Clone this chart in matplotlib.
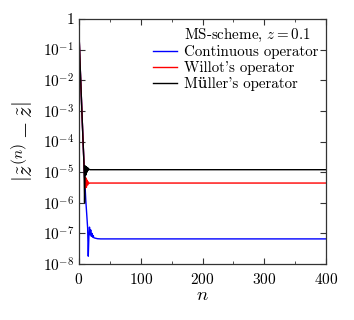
import matplotlib
matplotlib.use("Agg")
import matplotlib.pyplot as plt
from matplotlib.ticker import FixedLocator, NullLocator

plt.rcParams['font.family'] = ['cmr10', 'DejaVu Serif']
plt.rcParams['mathtext.fontset'] = 'cm'
plt.rcParams['axes.formatter.use_mathtext'] = True
plt.rcParams['axes.unicode_minus'] = False

# Continuous operator (blue)
n_cont = [0, 2, 4, 6, 8, 10, 11, 12, 13, 14, 15, 16, 17, 18, 19, 20, 21, 22, 23, 24, 26, 30, 35, 400]
e_cont = [0.35, 2.5e-2, 2.2e-3, 2.0e-4, 2.0e-5, 3.0e-6, 1.2e-6, 6.0e-7, 3.0e-7, 1.5e-7, 1.8e-8,
          8.0e-8, 1.6e-7, 9.0e-8, 1.3e-7, 8.0e-8, 1.0e-7, 7.5e-8, 8.5e-8, 7.2e-8, 7.0e-8, 6.7e-8, 6.6e-8, 6.6e-8]

# Willot's operator (red)
n_will = [0, 2, 4, 6, 8, 9, 10, 11, 12, 13, 14, 15, 16, 18, 400]
e_will = [0.35, 2.5e-2, 2.2e-3, 2.0e-4, 2.0e-5, 7.0e-6, 3.0e-6, 6.5e-6, 3.2e-6, 5.5e-6, 3.8e-6, 4.8e-6, 4.3e-6, 4.4e-6, 4.4e-6]

# Muller's operator (black)
n_mull = [0, 2, 4, 6, 8, 9, 10, 11, 12, 13, 14, 15, 16, 18, 400]
e_mull = [0.35, 2.5e-2, 2.2e-3, 2.0e-4, 2.0e-5, 1.0e-6, 1.6e-5, 8.0e-6, 1.5e-5, 1.0e-5, 1.4e-5, 1.15e-5, 1.25e-5, 1.2e-5, 1.2e-5]

legend_title = r"MS-scheme, $z = 0.1$"
labels = ["Continuous operator", "Willot's operator", "Müller's operator"]
xticks = [0, 100, 200, 300, 400]
yexps = list(range(-8, 1))

fig = plt.figure(figsize=(3.54, 3.2), dpi=100)
ax = fig.add_axes([79/354, 1 - 264/320, (326-79)/354, (264-19)/320])

ax.plot([], [], color='none', label=legend_title)
ax.plot(n_cont, e_cont, color='#0000ff', lw=1.0, label=labels[0])
ax.plot(n_will, e_will, color='#ff0000', lw=1.0, label=labels[1])
ax.plot(n_mull, e_mull, color='black', lw=1.0, label=labels[2])

ax.set_yscale('log')
ax.set_xlim(0, 400)
ax.set_ylim(1e-8, 1)
ax.xaxis.set_major_locator(FixedLocator(xticks))
ax.xaxis.set_minor_locator(FixedLocator([50, 150, 250, 350]))
ax.set_yticks([10.0**k for k in yexps])
ax.yaxis.set_minor_locator(NullLocator())
ax.set_yticklabels([r"$10^{%d}$" % k for k in yexps[:-1]] + ["1"])
ax.tick_params(which='both', direction='in', top=True, right=True, labelsize=11, color='#333333')
ax.tick_params(axis='x', which='major', pad=6)
ax.tick_params(which='major', length=4)
ax.tick_params(which='minor', length=2.5)
for s in ax.spines.values():
    s.set_color('#333333')
    s.set_linewidth(0.9)

ax.set_xlabel(r"$n$", fontsize=13.5, labelpad=-1)
ax.set_ylabel(r"$\left|\tilde{z}^{(n)}-\tilde{z}\right|$", fontsize=16, labelpad=4)

leg = ax.legend(loc='upper right', frameon=False, fontsize=10.8,
                handlelength=1.6, borderaxespad=0.2, labelspacing=0.12,
                handletextpad=0.5, borderpad=0.3)

fig.savefig("out.png", dpi=100)
